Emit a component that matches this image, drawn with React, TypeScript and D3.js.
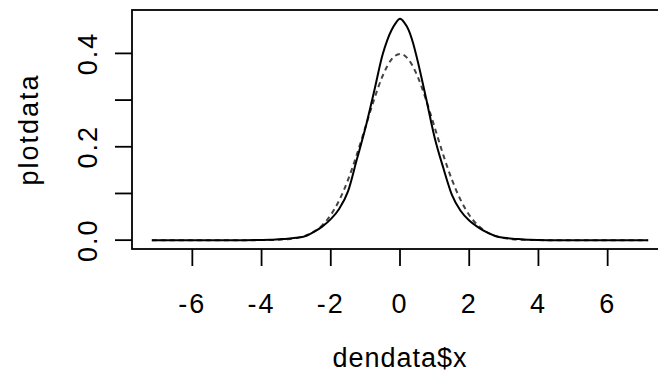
import React from "react";
import * as d3 from "d3";

// Solid curve: kernel density estimate
const densX = [-7.17, -6.5, -6, -5.5, -5, -4.5, -4, -3.75, -3.5, -3.25, -3, -2.75, -2.5, -2.25, -2, -1.75, -1.5, -1.25, -1, -0.75, -0.5, -0.375, -0.25, -0.125, 0, 0.125, 0.25, 0.375, 0.5, 0.75, 1, 1.25, 1.5, 1.75, 2, 2.25, 2.5, 2.75, 3, 3.25, 3.5, 3.75, 4, 4.5, 5, 5.5, 6, 6.5, 7.17];
const densY = [0, 0, 0, 0, 0, 0, 0.0005, 0.001, 0.002, 0.003, 0.005, 0.008, 0.017, 0.029, 0.045, 0.068, 0.105, 0.172, 0.24, 0.318, 0.398, 0.427, 0.449, 0.465, 0.474, 0.466, 0.45, 0.423, 0.387, 0.305, 0.22, 0.155, 0.097, 0.063, 0.042, 0.028, 0.017, 0.009, 0.005, 0.003, 0.002, 0.001, 0.0005, 0, 0, 0, 0, 0, 0];

// Dashed curve: reference normal density
const normX = [-7.17, -6.5, -6, -5.5, -5, -4.5, -4, -3.75, -3.5, -3.25, -3, -2.75, -2.5, -2.25, -2, -1.75, -1.5, -1.25, -1, -0.75, -0.5, -0.25, 0, 0.25, 0.5, 0.75, 1, 1.25, 1.5, 1.75, 2, 2.25, 2.5, 2.75, 3, 3.25, 3.5, 3.75, 4, 4.5, 5, 5.5, 6, 6.5, 7.17];
const normY = [0, 0, 0, 0, 0, 0, 0.0001, 0.0004, 0.0009, 0.002, 0.0044, 0.0091, 0.0175, 0.0317, 0.054, 0.0863, 0.1295, 0.1826, 0.242, 0.3011, 0.3521, 0.3867, 0.3989, 0.3867, 0.3521, 0.3011, 0.242, 0.1826, 0.1295, 0.0863, 0.054, 0.0317, 0.0175, 0.0091, 0.0044, 0.002, 0.0009, 0.0004, 0.0001, 0, 0, 0, 0, 0, 0];

const xTicks = [-6, -4, -2, 0, 2, 4, 6];
const yTicks = [0, 0.1, 0.2, 0.3, 0.4];
const yTickLabels = ["0.0", "", "0.2", "", "0.4"];

const xLabel = "dendata$x";
const yLabel = "plotdata";

export default function App() {
  const W = 658, H = 380;
  const left = 132, right = 668, top = 10, bottom = 249;

  const xMin = d3.min(densX)!, xMax = d3.max(densX)!;
  const xPad = (xMax - xMin) * 0.04;
  const yMax = d3.max(densY)!;
  const yPad = yMax * 0.04;

  const x = d3.scaleLinear().domain([xMin - xPad, xMax + xPad]).range([left, right]);
  const y = d3.scaleLinear().domain([0 - yPad, yMax + yPad]).range([bottom, top]);

  const line = d3.line<[number, number]>().x(d => x(d[0])).y(d => y(d[1])).curve(d3.curveMonotoneX);
  const solid = line(densX.map((v, i) => [v, densY[i]] as [number, number]))!;
  const dashed = line(normX.map((v, i) => [v, normY[i]] as [number, number]))!;

  const font = "'Liberation Sans', Arial, sans-serif";
  const fs = 27;

  return (
    <svg width={W} height={H} style={{ position: "fixed", left: 0, top: 0, background: "#fff" }}>
      <rect x={0} y={0} width={W} height={H} fill="#fff" />
      <path d={dashed} fill="none" stroke="#444" strokeWidth={2} strokeDasharray="5,4" />
      <path d={solid} fill="none" stroke="#000" strokeWidth={2} />
      <rect x={left} y={top} width={right - left} height={bottom - top} fill="none" stroke="#000" strokeWidth={1.8} />
      {xTicks.map(t => (
        <g key={"x" + t}>
          <line x1={x(t)} x2={x(t)} y1={bottom} y2={bottom + 17} stroke="#000" strokeWidth={1.8} />
          <text x={x(t)} y={313} textAnchor="middle" fontFamily={font} fontSize={fs} letterSpacing={2}>{String(t)}</text>
        </g>
      ))}
      {yTicks.map((t, i) => (
        <g key={"y" + t}>
          <line x1={left - 17} x2={left} y1={y(t)} y2={y(t)} stroke="#000" strokeWidth={1.8} />
          {yTickLabels[i] && (
            <text transform={`translate(97,${y(t)}) rotate(-90)`} textAnchor="middle" fontFamily={font} fontSize={fs} letterSpacing={2}>{yTickLabels[i]}</text>
          )}
        </g>
      ))}
      <text x={(left + right) / 2} y={367} textAnchor="middle" fontFamily={font} fontSize={fs} letterSpacing={1}>{xLabel}</text>
      <text transform={`translate(38,${(top + bottom) / 2}) rotate(-90)`} textAnchor="middle" fontFamily={font} fontSize={fs} letterSpacing={2}>{yLabel}</text>
    </svg>
  );
}
